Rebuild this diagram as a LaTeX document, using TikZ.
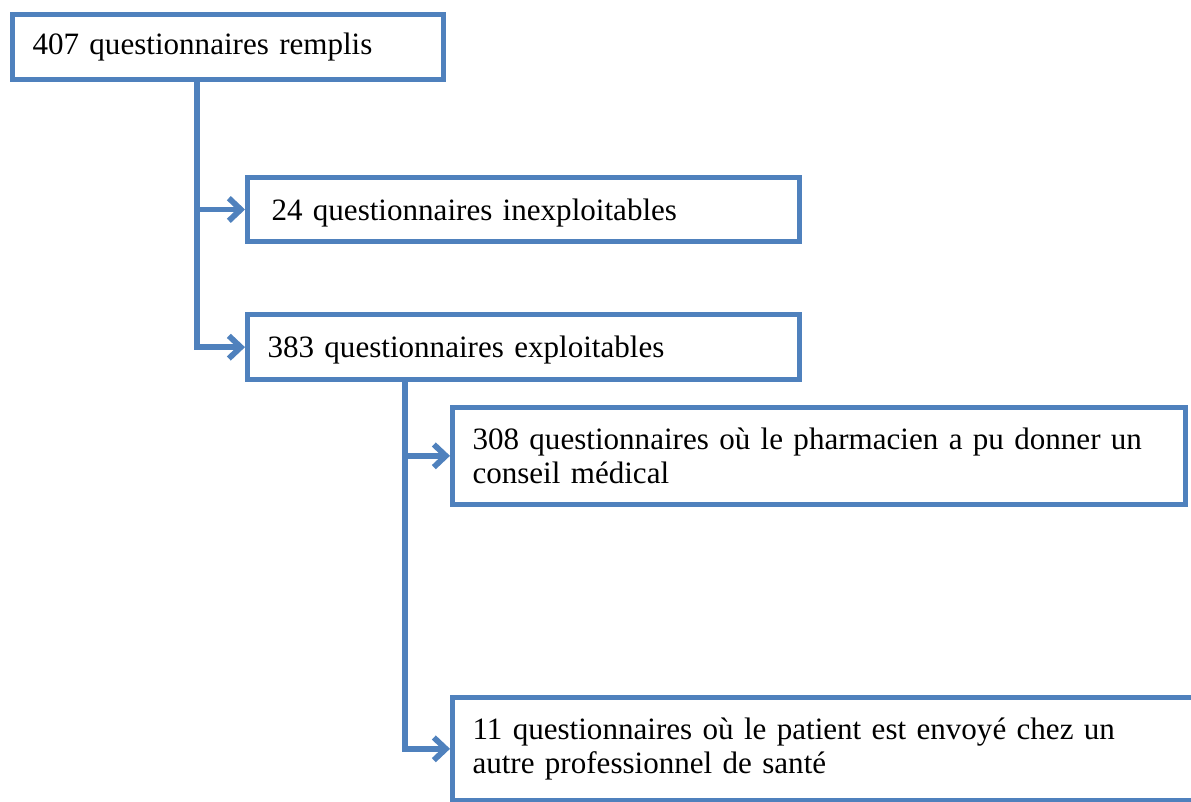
\documentclass[tikz,border=0pt]{standalone}
\usepackage{fontspec}
\setmainfont{Liberation Serif}
\usetikzlibrary{arrows.meta}
\definecolor{flowblue}{RGB}{79,129,189}
\tikzset{every picture/.style={line width=.55pt}}

\begin{document}
\begin{tikzpicture}[x=.75pt,y=-.75pt,
 every node/.style={font=\fontsize{23.3}{25.5}\selectfont},
 box/.style={draw=flowblue,line width=3.75pt,rectangle,align=left,
  inner xsep=15pt,anchor=north west},
 link/.style={draw=flowblue,line width=4.3pt,
  -{Straight Barb[length=9pt,width=17pt]}}]
 \useasboundingbox (0,0) rectangle (1191,802);

 % Top level and the first split.
 \node[box,text width=293pt,minimum height=49pt] (remplis) at (10,12)
  {407 questionnaires remplis};
 \node[box,text width=378pt,minimum height=48pt,inner xsep=18pt,
  text depth=-1pt] (inexpl) at (245,175) {24 questionnaires inexploitables};
 \node[box,text width=384pt,minimum height=49pt,text depth=-2pt] (expl)
  at (245,312) {383 questionnaires exploitables};

 % Second split, below the usable questionnaires.
 \node[box,text width=520pt,minimum height=72.5pt] (conseil) at (450,405)
  {308 questionnaires où le pharmacien a pu donner un\\conseil médical};
 \node[box,text width=540pt,minimum height=77pt] (envoi) at (450,695)
  {11 questionnaires où le patient est envoyé chez un\\autre professionnel de santé};

 \coordinate (trunkA) at (197,0);
 \coordinate (trunkB) at (405,0);
 \draw[link] (remplis.south -| trunkA) |- (inexpl.west);
 \draw[link] (remplis.south -| trunkA) |- (expl.west);
 \draw[link] (expl.south -| trunkB) |- (conseil.west);
 \draw[link] (expl.south -| trunkB) |- (envoi.west);
\end{tikzpicture}
\end{document}
